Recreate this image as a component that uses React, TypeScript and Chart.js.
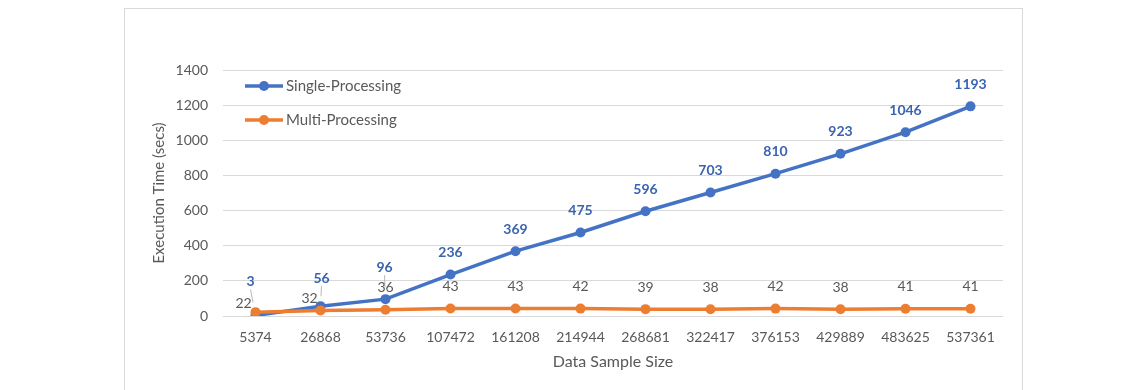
import React, { useEffect, useRef } from "react";
import { Chart, registerables } from "chart.js";

Chart.register(...registerables);

const categories = ["5374", "26868", "53736", "107472", "161208", "214944", "268681", "322417", "376153", "429889", "483625", "537361"];
const singleProcessing = [3, 56, 96, 236, 369, 475, 596, 703, 810, 923, 1046, 1193];
const multiProcessing = [22, 32, 36, 43, 43, 42, 39, 38, 42, 38, 41, 41];
const seriesLabels = ["Single-Processing", "Multi-Processing"];
const yTicks = [0, 200, 400, 600, 800, 1000, 1200, 1400];

const BLUE = "#4472C4";
const ORANGE = "#ED7D31";
const GRAY_TEXT = "#595959";
const FONT = "Lato, 'Open Sans', sans-serif";

// manual label nudges (like Excel's moved labels), by dataset index -> point index
const labelNudges: Record<number, Record<number, [number, number]>> = {
  0: { 0: [-5, -34], 1: [1, -28], 2: [-1, -32] },
  1: { 0: [-12, -9], 1: [-11, -12] },
};

const insideLegend = {
  id: "insideLegend",
  afterDraw(chart: any) {
    const ctx = chart.ctx;
    const ca = chart.chartArea;
    const x0 = ca.left + 22;
    let y = ca.top + 16;
    chart.data.datasets.forEach((ds: any) => {
      ctx.save();
      ctx.strokeStyle = ds.borderColor;
      ctx.lineWidth = 3.5;
      ctx.beginPath();
      ctx.moveTo(x0, y);
      ctx.lineTo(x0 + 38, y);
      ctx.stroke();
      ctx.fillStyle = ds.borderColor;
      ctx.beginPath();
      ctx.arc(x0 + 19, y, 5, 0, Math.PI * 2);
      ctx.fill();
      ctx.fillStyle = GRAY_TEXT;
      ctx.font = `15px ${FONT}`;
      ctx.textBaseline = "middle";
      ctx.textAlign = "left";
      ctx.fillText(ds.label, x0 + 41, y);
      ctx.restore();
      y += 34;
    });
  },
};

const dataLabels = {
  id: "dataLabels",
  afterDatasetsDraw(chart: any) {
    const ctx = chart.ctx;
    chart.data.datasets.forEach((ds: any, di: number) => {
      const meta = chart.getDatasetMeta(di);
      meta.data.forEach((pt: any, i: number) => {
        const nudge = labelNudges[di] && labelNudges[di][i];
        const dx = nudge ? nudge[0] : 0;
        const dy = nudge ? nudge[1] : -22;
        const lx = pt.x + dx;
        const ly = pt.y + dy;
        ctx.save();
        if (nudge && di === 0) {
          ctx.strokeStyle = "#A6A6A6";
          ctx.lineWidth = 0.8;
          ctx.beginPath();
          ctx.moveTo(lx, ly + 8);
          ctx.lineTo(lx + (pt.x - lx) * 0.5, ly + 8 + (pt.y - ly - 8) * 0.5);
          ctx.stroke();
        }
        ctx.font = di === 0 ? `bold 14px ${FONT}` : `14px ${FONT}`;
        ctx.fillStyle = di === 0 ? "#3A64B0" : GRAY_TEXT;
        ctx.textAlign = "center";
        ctx.textBaseline = "middle";
        ctx.fillText(String(ds.data[i]), lx, ly);
        ctx.restore();
      });
    });
  },
};

export default function App() {
  const ref = useRef<HTMLCanvasElement | null>(null);
  useEffect(() => {
    if (!ref.current) return;
    const chart = new Chart(ref.current, {
      type: "line",
      data: {
        labels: categories,
        datasets: [
          {
            label: seriesLabels[0],
            data: singleProcessing,
            borderColor: BLUE,
            backgroundColor: BLUE,
            borderWidth: 3.5,
            pointRadius: 5,
            pointBackgroundColor: BLUE,
            pointBorderWidth: 0,
            order: 1,
          },
          {
            label: seriesLabels[1],
            data: multiProcessing,
            borderColor: ORANGE,
            backgroundColor: ORANGE,
            borderWidth: 3.5,
            pointRadius: 5,
            pointBackgroundColor: ORANGE,
            pointBorderWidth: 0,
            order: 0,
          },
        ],
      },
      options: {
        animation: false,
        responsive: false,
        maintainAspectRatio: false,
        layout: { padding: { left: 146, right: 143, top: 70, bottom: 15 } },
        plugins: {
          legend: { display: false },
          tooltip: { enabled: false },
        },
        scales: {
          x: {
            type: "category",
            offset: true,
            grid: { display: false, drawTicks: false },
            border: { display: false },
            ticks: { color: GRAY_TEXT, font: { family: FONT, size: 14 }, padding: 13, maxRotation: 0, autoSkip: false },
            title: { display: true, text: "Data Sample Size", color: GRAY_TEXT, font: { family: FONT, size: 16 } },
            afterFit: (s: any) => { s.height = 59; },
          },
          y: {
            min: 0,
            max: 1400,
            afterBuildTicks: (s: any) => { s.ticks = yTicks.map((v) => ({ value: v })); },
            grid: { color: "#D9D9D9", lineWidth: 1, drawTicks: false },
            border: { display: false },
            ticks: { color: GRAY_TEXT, font: { family: FONT, size: 14 }, padding: 15, callback: (v: any) => String(v) },
            title: { display: true, text: "Execution Time (secs)", color: GRAY_TEXT, font: { family: FONT, size: 15 } },
            afterFit: (s: any) => { s.width = 77; },
          },
        },
      },
      plugins: [dataLabels, insideLegend],
    });
    return () => chart.destroy();
  }, []);
  return (
    <div style={{ position: "fixed", left: 0, top: 0, width: 1146, height: 390, background: "#fff" }}>
      <div style={{ position: "absolute", left: 124, top: 8, width: 899, height: 400, border: "1px solid #D9D9D9", boxSizing: "border-box" }} />
      <canvas ref={ref} width={1146} height={390} style={{ position: "absolute", left: 0, top: 0 }} />
    </div>
  );
}
